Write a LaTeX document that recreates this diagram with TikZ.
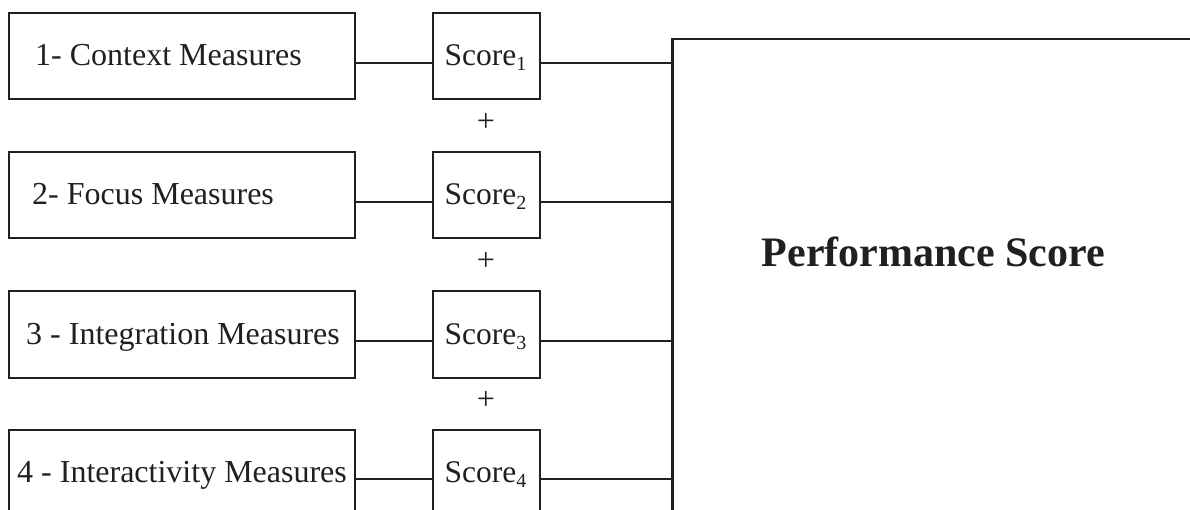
\documentclass[tikz,border=0pt]{standalone}
\usepackage{fontspec}
\setmainfont{Liberation Serif}
\definecolor{ink}{RGB}{35,31,32}
\begin{document}
\begin{tikzpicture}[x=1pt,y=1pt,
  mbox/.style={draw=ink, line width=2pt, minimum width=346pt, minimum height=86.5pt, anchor=north west, inner sep=0pt},
  sbox/.style={draw=ink, line width=2pt, minimum width=107pt, minimum height=86.5pt, anchor=north west, inner sep=0pt},
  txt/.style={anchor=base west, inner sep=0pt, text=ink, font=\fontsize{32}{36}\selectfont},
  stxt/.style={anchor=base, inner sep=0pt, text=ink, font=\fontsize{31.5}{36}\selectfont},
  plus/.style={inner sep=0pt, text=ink, font=\fontsize{32}{36}\selectfont},
  conn/.style={draw=ink, line width=1.8pt}]
\clip (0,0) rectangle (1190,-510);
\fill[white] (0,0) rectangle (1190,-510);
\newcommand{\sub}[1]{\raisebox{-5pt}{\fontsize{20}{20}\selectfont #1}}
% big box
\node[draw=ink, line width=2.5pt, minimum width=700pt, minimum height=700pt, anchor=north west, inner sep=0pt] (P) at (671,-38) {};
\node[anchor=base, inner sep=0pt, text=ink, font=\fontsize{42}{48}\selectfont\bfseries] (ps) at (933.5,-267) {Performance Score};
% measure boxes
\node[mbox] (m1) at (8,-12) {};
\node[mbox] (m2) at (8,-151) {};
\node[mbox] (m3) at (8,-290) {};
\node[mbox] (m4) at (8,-429) {};
\node[txt] (t1) at (35,-66) {1- Context Measures};
\node[txt] (t2) at (32,-205) {2- Focus Measures};
\node[txt] (t3) at (26,-344) {3 - Integration Measures};
\node[txt] (t4) at (17,-482) {4 - Interactivity Measures};
% score boxes
\node[sbox] (s1) at (432,-12) {};
\node[sbox] (s2) at (432,-151) {};
\node[sbox] (s3) at (432,-290) {};
\node[sbox] (s4) at (432,-429) {};
\node[stxt] (st1) at (485.5,-66) {Score\sub{1}};
\node[stxt] (st2) at (485.5,-205) {Score\sub{2}};
\node[stxt] (st3) at (485.5,-344) {Score\sub{3}};
\node[stxt] (st4) at (485.5,-482) {Score\sub{4}};
% plus signs
\node[plus] (p1) at (486,-122) {+};
\node[plus] (p2) at (486,-261) {+};
\node[plus] (p3) at (486,-400) {+};
% row levels
\coordinate (r1) at (0,-63);
\coordinate (r2) at (0,-202);
\coordinate (r3) at (0,-341);
\coordinate (r4) at (0,-479);
% connectors
\foreach \i in {1,2,3,4}{
  \draw[conn] (m\i.east |- r\i) -- (s\i.west |- r\i);
  \draw[conn] (s\i.east |- r\i) -- (P.west |- r\i);
}
\end{tikzpicture}
\end{document}
